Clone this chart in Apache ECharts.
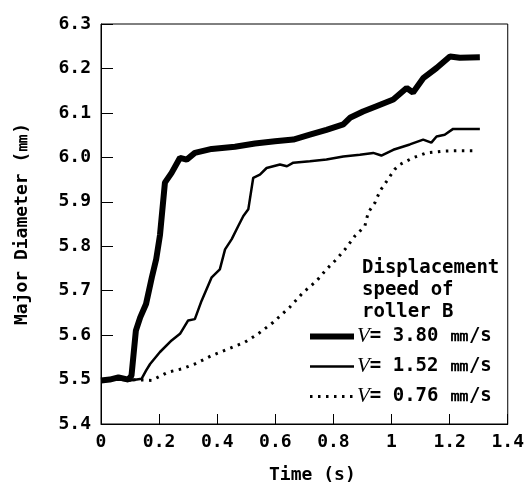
<!DOCTYPE html>
<html>
<head>
<meta charset="utf-8">
<script src="https://cdn.jsdelivr.net/npm/echarts@6/dist/echarts.min.js"></script>
<style>
  html, body { margin: 0; padding: 0; background: #fff; }
  #chart { width: 527px; height: 489px; }
</style>
</head>
<body>
<div id="chart"></div>
<script>
// values: time (s) vs major diameter (mm)
const speeds = ['3.80', '1.52', '0.76'];

const tFast = [0, 0.03, 0.06, 0.094, 0.105, 0.12, 0.135, 0.155, 0.175, 0.19, 0.203, 0.220, 0.243, 0.272, 0.295, 0.323, 0.381, 0.461, 0.530, 0.599, 0.662, 0.719, 0.776, 0.834, 0.857, 0.902, 0.948, 1.006, 1.052, 1.074, 1.109, 1.155, 1.201, 1.235, 1.304];
const vFast = [5.498, 5.500, 5.505, 5.500, 5.509, 5.610, 5.640, 5.670, 5.730, 5.771, 5.825, 5.943, 5.965, 5.999, 5.995, 6.010, 6.019, 6.024, 6.031, 6.036, 6.040, 6.051, 6.062, 6.074, 6.089, 6.103, 6.115, 6.130, 6.156, 6.146, 6.178, 6.201, 6.227, 6.224, 6.225];

const tMid = [0, 0.06, 0.10, 0.14, 0.155, 0.169, 0.203, 0.243, 0.272, 0.300, 0.323, 0.346, 0.381, 0.409, 0.427, 0.450, 0.472, 0.490, 0.507, 0.524, 0.547, 0.570, 0.616, 0.640, 0.662, 0.719, 0.776, 0.834, 0.891, 0.937, 0.965, 1.006, 1.063, 1.109, 1.137, 1.155, 1.183, 1.212, 1.304];
const vMid = [5.5, 5.5, 5.498, 5.502, 5.52, 5.535, 5.562, 5.588, 5.603, 5.633, 5.636, 5.677, 5.730, 5.748, 5.793, 5.816, 5.845, 5.868, 5.883, 5.954, 5.961, 5.976, 5.984, 5.980, 5.988, 5.991, 5.995, 6.002, 6.006, 6.010, 6.004, 6.017, 6.029, 6.040, 6.033, 6.047, 6.051, 6.064, 6.064];

const tSlow = [0, 0.10, 0.174, 0.232, 0.278, 0.323, 0.381, 0.438, 0.495, 0.541, 0.593, 0.650, 0.696, 0.742, 0.776, 0.811, 0.845, 0.874, 0.908, 0.920, 0.943, 0.960, 0.983, 1.011, 1.029, 1.074, 1.120, 1.178, 1.235, 1.292];
const vSlow = [5.5, 5.5, 5.498, 5.517, 5.524, 5.535, 5.554, 5.569, 5.584, 5.603, 5.629, 5.663, 5.696, 5.722, 5.748, 5.771, 5.797, 5.823, 5.845, 5.876, 5.898, 5.924, 5.946, 5.973, 5.984, 5.999, 6.010, 6.014, 6.015, 6.015];

const FONT = '"DejaVu Sans Mono", monospace';
const pairs = (t, v) => t.map((x, i) => [x, v[i]]);
const names = speeds.map(s => 'V = ' + s + ' mm/s');
const widths = [6, 2.5, 3];
const dashes = ['solid', 'solid', [2.5, 5.5]];

const chart = echarts.init(document.getElementById('chart'), null, { renderer: 'canvas' });
chart.setOption({
  animation: false,
  backgroundColor: '#fff',
  textStyle: { fontFamily: FONT, color: '#000' },
  grid: { left: 101, right: 19, top: 24, bottom: 64, show: true, borderColor: '#000', borderWidth: 1 },
  title: {
    text: 'Displacement\nspeed of\nroller B',
    left: 357, top: 252,
    textStyle: { fontFamily: FONT, fontSize: 19, fontWeight: 'bold', lineHeight: 22, color: '#000' },
  },
  legend: {
    orient: 'vertical',
    left: 302, top: 321,
    itemWidth: 44, itemHeight: 14, itemGap: 9,
    itemStyle: { opacity: 0 },
    data: names.map((n, i) => ({ name: n, lineStyle: { color: '#000', width: widths[i], type: dashes[i] } })),
    formatter: n => '{i|V}{t|= ' + speeds[names.indexOf(n)] + ' ㎜/s}',
    textStyle: {
      padding: [0, 0, 0, -2],
      rich: {
        i: { fontFamily: '"Liberation Serif", serif', fontStyle: 'italic', fontSize: 21, lineHeight: 20, color: '#000' },
        t: { fontFamily: FONT, fontSize: 19, fontWeight: 'bold', lineHeight: 20, color: '#000' },
      },
    },
  },
  xAxis: {
    type: 'value', min: 0, max: 1.4, interval: 0.2,
    name: 'Time (s)', nameLocation: 'middle', nameGap: 42,
    nameTextStyle: { fontFamily: FONT, fontSize: 18, fontWeight: 'bold', color: '#000', padding: [0, 0, 0, 16] },
    axisLine: { lineStyle: { color: '#000', width: 1 } },
    axisTick: { inside: true, length: 10, lineStyle: { color: '#000' } },
    axisLabel: { fontFamily: FONT, fontSize: 18, fontWeight: 'bold', color: '#000', margin: 9, formatter: v => String(Math.round(v * 10) / 10) },
    splitLine: { show: false },
  },
  yAxis: {
    type: 'value', min: 5.4, max: 6.3, interval: 0.1,
    name: 'Major Diameter (㎜)', nameLocation: 'middle', nameGap: 70, nameRotate: 90,
    nameTextStyle: { fontFamily: FONT, fontSize: 18, fontWeight: 'bold', color: '#000' },
    axisLine: { lineStyle: { color: '#000', width: 1 } },
    axisTick: { inside: true, length: 12, lineStyle: { color: '#000' } },
    axisLabel: { fontFamily: FONT, fontSize: 18, fontWeight: 'bold', color: '#000', margin: 10, formatter: v => v.toFixed(1) },
    splitLine: { show: false },
  },
  series: [
    { name: names[0], type: 'line', data: pairs(tFast, vFast), symbol: 'none', itemStyle: { color: '#000' }, lineStyle: { color: '#000', width: widths[0] } },
    { name: names[1], type: 'line', data: pairs(tMid, vMid), symbol: 'none', itemStyle: { color: '#000' }, lineStyle: { color: '#000', width: widths[1] } },
    { name: names[2], type: 'line', data: pairs(tSlow, vSlow), symbol: 'none', itemStyle: { color: '#000' }, lineStyle: { color: '#000', width: widths[2], type: dashes[2] } },
  ],
});
</script>
</body>
</html>
